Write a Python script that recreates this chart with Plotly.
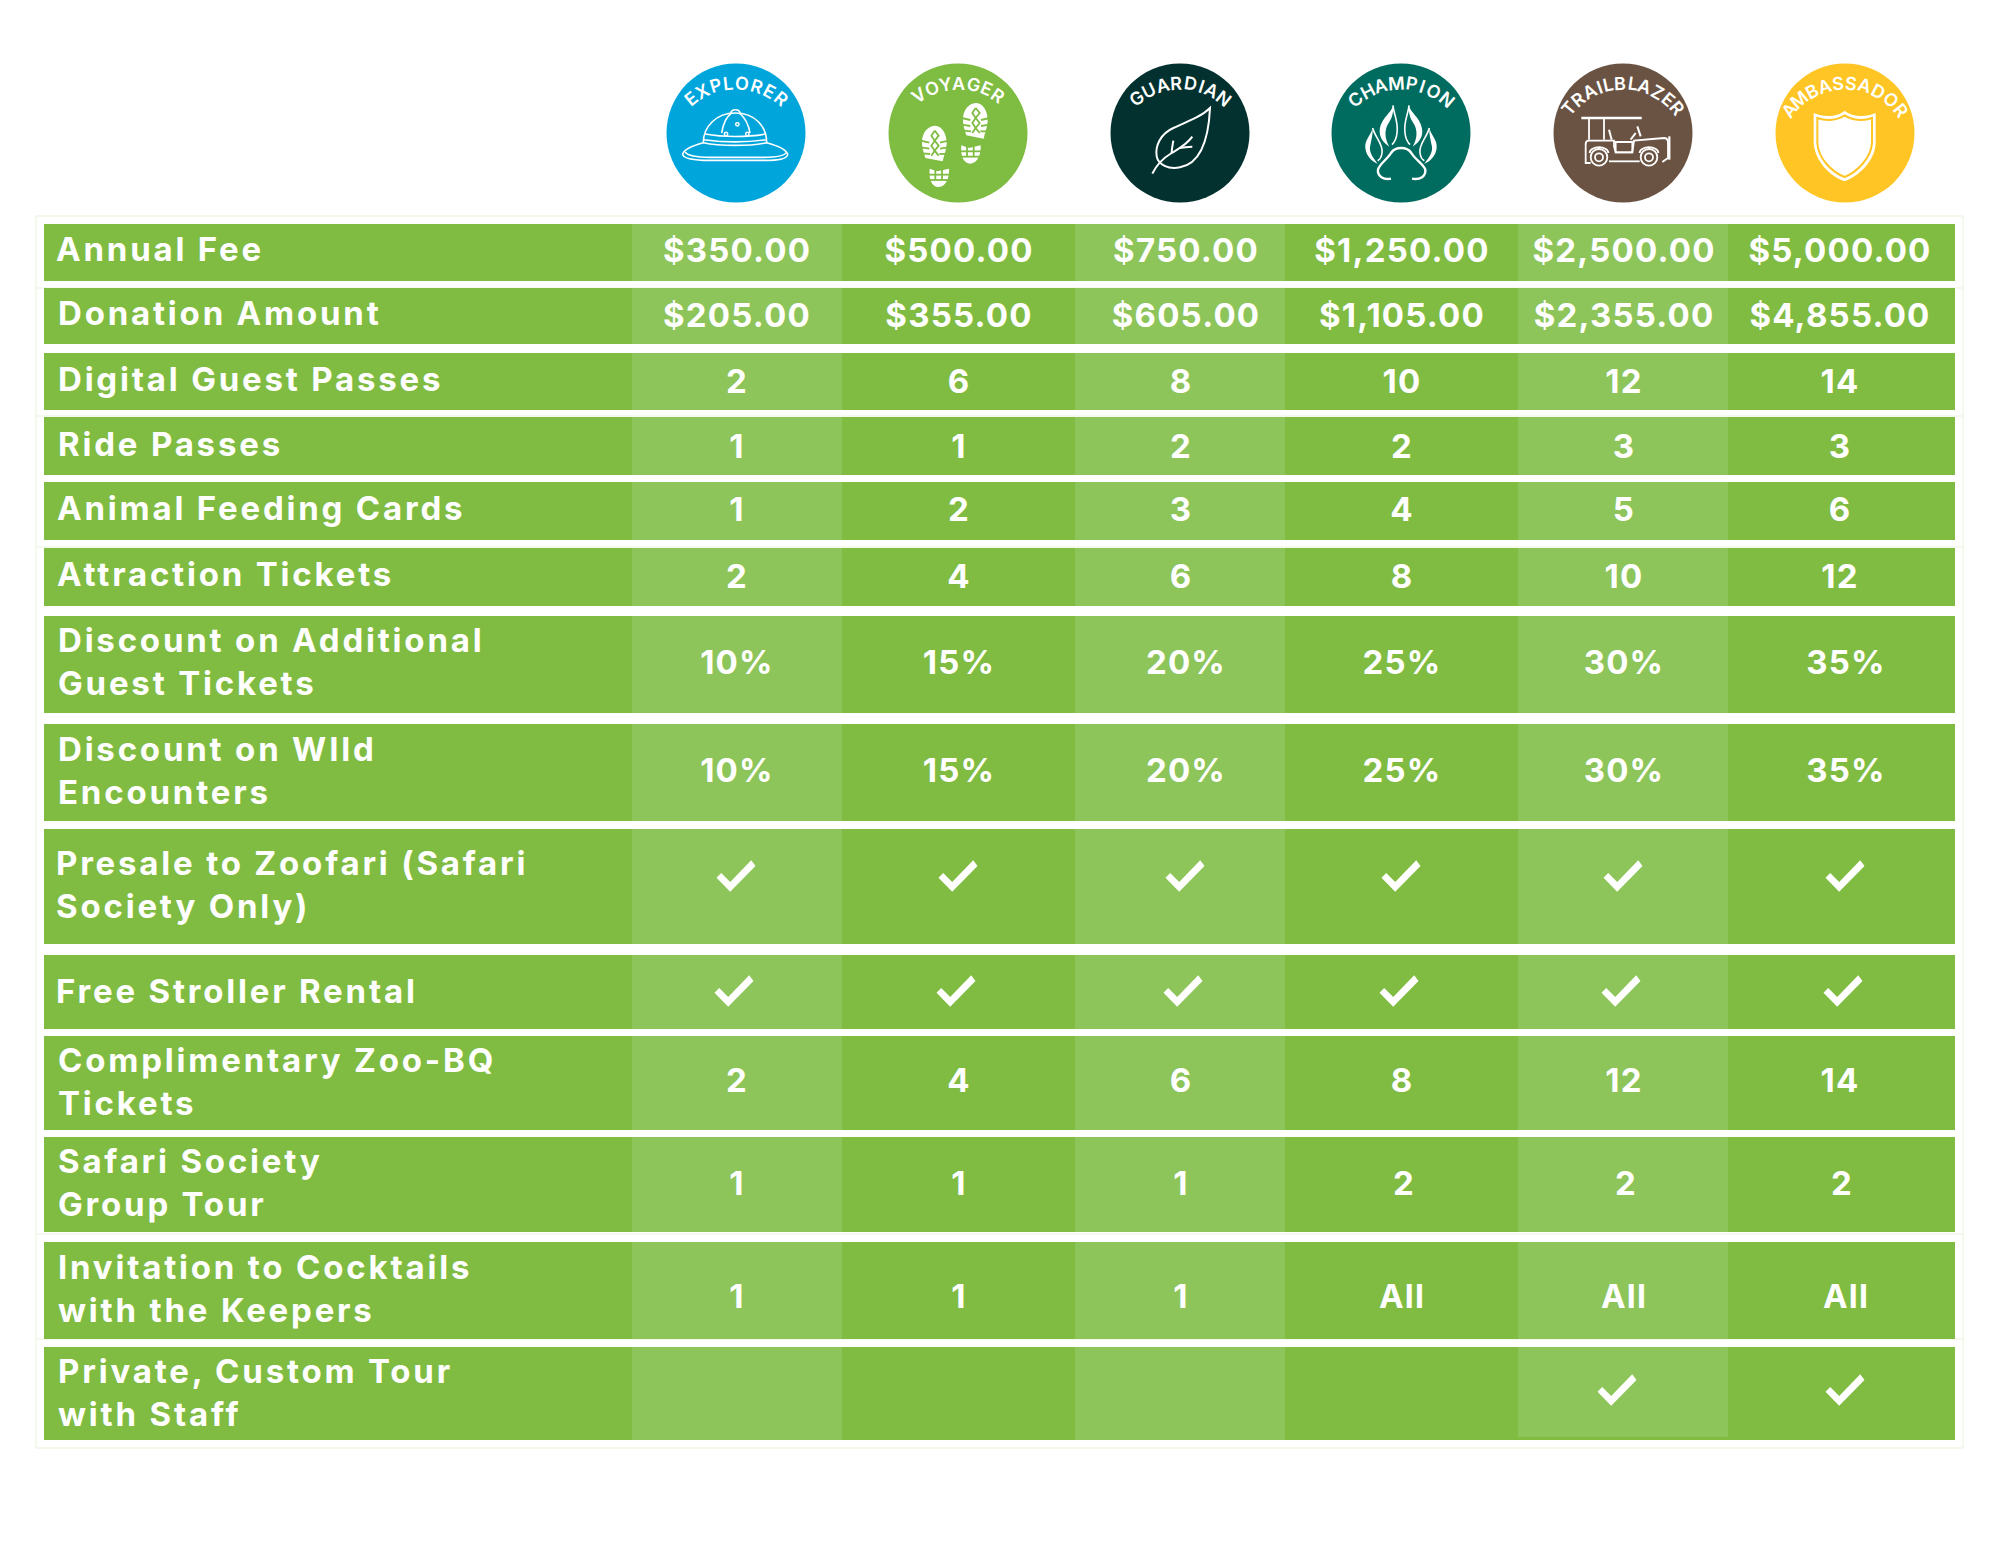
"""
SAFARI SOCIETY TIERS - membership benefits table drawn as a Plotly figure.

The x and y axes run in page pixels, so the bands, badges and labels all go
through the library's own scales.
"""

import math
import re

import plotly.graph_objects as go

# --- data ---------------------------------------------------------------
tier_names = ["EXPLORER", "VOYAGER", "GUARDIAN", "CHAMPION", "TRAILBLAZER", "AMBASSADOR"]
tier_colors = ["#00A5DC", "#7FBC42", "#03312F", "#006C5F", "#6B5343", "#FFC524"]

row_labels = [
    "Annual Fee",
    "Donation Amount",
    "Digital Guest Passes",
    "Ride Passes",
    "Animal Feeding Cards",
    "Attraction Tickets",
    "Discount on Additional<br>Guest Tickets",
    "Discount on WIld<br>Encounters",
    "Presale to Zoofari (Safari<br>Society Only)",
    "Free Stroller Rental",
    "Complimentary Zoo-BQ<br>Tickets",
    "Safari Society<br>Group Tour",
    "Invitation to Cocktails<br>with the Keepers",
    "Private, Custom Tour<br>with Staff",
]

CHECK = "check"
explorer = ["$350.00", "$205.00", "2", "1", "1", "2", "10%", "10%", CHECK, CHECK, "2", "1", "1", ""]
voyager = ["$500.00", "$355.00", "6", "1", "2", "4", "15%", "15%", CHECK, CHECK, "4", "1", "1", ""]
guardian = ["$750.00", "$605.00", "8", "2", "3", "6", "20%", "20%", CHECK, CHECK, "6", "1", "1", ""]
champion = ["$1,250.00", "$1,105.00", "10", "2", "4", "8", "25%", "25%", CHECK, CHECK, "8", "2", "All", ""]
trailblazer = ["$2,500.00", "$2,355.00", "12", "3", "5", "10", "30%", "30%", CHECK, CHECK, "12", "2", "All", CHECK]
ambassador = ["$5,000.00", "$4,855.00", "14", "3", "6", "12", "35%", "35%", CHECK, CHECK, "14", "2", "All", CHECK]
tier_values = [explorer, voyager, guardian, champion, trailblazer, ambassador]

# --- page layout (pixels) -----------------------------------------------
PAGE_W, PAGE_H = 1999, 1545
DARK, LIGHT = "#80BC42", "#8EC55A"
FAINT = "#E8F3DC"
FONT = "Inter"

row_top = [224, 288, 353, 417, 482, 548, 616, 724, 829, 955, 1036, 1137, 1242, 1347]
row_bottom = [281, 344, 410, 475, 540, 606, 713, 821, 944, 1029, 1130, 1232, 1339, 1440]
band_left = [632, 842, 1075, 1285, 1518, 1728]
band_right = [842, 1075, 1285, 1518, 1728, 1955]
badge_x = [736, 958, 1180, 1401, 1623, 1845]
badge_y = 133

label_x = [56, 58, 58, 58, 57, 57, 58, 58, 56, 56, 58, 58, 58, 58]
label_y = [253, 317, 383, 448, 512, 578, 665, 774, 888, 995, 1085, 1186, 1292, 1396]
value_y = [254, 319, 385, 450, 513, 580, 666, 774, 876, 991, 1084, 1187, 1300, 1390]
# a few cells sit off their column centre in the original
value_x_shift = {
    (0, 2): 5, (1, 2): 5, (6, 2): 5, (7, 2): 5, (8, 2): 5, (9, 1): -2, (9, 2): 3,
    (9, 0): -2, (9, 3): -2, (9, 4): -2, (9, 5): -2,
    (0, 5): -6, (1, 5): -6, (2, 5): -6, (3, 5): -6, (4, 5): -6, (5, 5): -6,
    (10, 5): -6, (11, 5): -4, (11, 4): 2, (11, 3): 2, (13, 4): -6,
}

# letter centres run along a flatter arc than the badge edge: (half span in degrees)
arc_span = [39, 34, 38, 40, 50, 52]
ARC_DROP, ARC_RADIUS = 21, 71
letter_weight = {"I": 0.5, "L": 0.8, "T": 0.9, "E": 0.85, "M": 1.2, "O": 1.15, "G": 1.1, "C": 1.05, "D": 1.1, "Y": 0.9}

# icons are traced at 3x inside a 150px window around each badge
ICON_ORIGIN = [(660, 58), (883, 58), (1105, 58), (1327, 58), (1549, 58), (1770, 58)]

CHECK_GLYPH = [(15.2, -15.7), (19.5, -10), (-5.8, 15.7), (-19.5, 1.7), (-14.8, -3), (-5.8, 6)]


def place(path, origin):
    """Map a path traced in the 3x icon window onto the page."""
    values = iter(re.findall(r"[MLCQZ]|-?[\d.]+", path))
    out, is_x = [], True
    for tok in values:
        if tok in "MLCQZ":
            out.append(tok)
            is_x = True
        elif is_x:
            out.append(f"{origin[0] + float(tok) / 3:.2f}")
            is_x = False
        else:
            out.append(f"{origin[1] + float(tok) / 3:.2f}")
            is_x = True
    return " ".join(out)


def mirror(path, axis):
    """Reflect a traced path about a vertical line in the icon window."""
    tokens = re.findall(r"[MLCQZ]|-?[\d.]+", path)
    out, is_x = [], True
    for tok in tokens:
        if tok in "MLCQZ":
            out.append(tok)
            is_x = True
        elif is_x:
            out.append(str(2 * axis - float(tok)))
            is_x = False
        else:
            out.append(tok)
            is_x = True
    return " ".join(out)


def shift(path, dx, dy):
    tokens = re.findall(r"[MLCQZ]|-?[\d.]+", path)
    out, is_x = [], True
    for tok in tokens:
        if tok in "MLCQZ":
            out.append(tok)
            is_x = True
        elif is_x:
            out.append(str(float(tok) + dx))
            is_x = False
        else:
            out.append(str(float(tok) + dy))
            is_x = True
    return " ".join(out)


WHITE = "#FFFFFF"


def stroke(fig, tier, path, width=1.6, color=WHITE):
    fig.add_shape(type="path", path=place(path, ICON_ORIGIN[tier]), line=dict(color=color, width=width))


def fill(fig, tier, path, color=WHITE):
    fig.add_shape(type="path", path=place(path, ICON_ORIGIN[tier]), fillcolor=color, line=dict(width=0))


def ring(fig, tier, cx, cy, r, width=1.5):
    ox, oy = ICON_ORIGIN[tier]
    fig.add_shape(type="circle", x0=ox + (cx - r) / 3, x1=ox + (cx + r) / 3, y0=oy + (cy - r) / 3,
                  y1=oy + (cy + r) / 3, line=dict(color=WHITE, width=width))


def draw_hat(fig):
    stroke(fig, 0, "M130 254 C100 262 72 275 68 288 C68 300 90 305 130 307 L330 307 "
                   "C365 306 383 300 383 288 C378 275 350 262 320 254 C270 265 180 265 130 254 Z")
    stroke(fig, 0, "M75 282 C85 295 120 298 150 298 L310 298 C345 298 375 293 380 282")
    stroke(fig, 0, "M130 254 C130 205 170 165 225 165 C285 165 320 205 320 254")
    stroke(fig, 0, "M135 228 C190 238 265 238 318 228")
    stroke(fig, 0, "M131 245 C190 253 265 253 320 245")
    stroke(fig, 0, "M185 225 C190 195 200 175 215 165")
    stroke(fig, 0, "M270 225 C265 195 250 175 238 165")
    stroke(fig, 0, "M212 165 C215 152 238 152 240 165")
    for cx, cy in [(198, 228), (262, 228), (232, 199)]:
        ring(fig, 0, cx, cy, 5)


def draw_boots(fig):
    sole = "M240 185 C240 150 262 135 280 135 C300 135 315 160 314 190 C313 210 305 225 302 242 L250 232 C246 215 240 205 240 185 Z"
    heel = "M235 262 L258 270 L293 262 C295 285 285 317 262 317 C240 317 232 290 235 262 Z"
    treads = ["M236 180 L262 186", "M236 200 L262 204", "M240 218 L264 220", "M320 180 L294 186",
              "M320 200 L294 204", "M312 220 L292 220", "M278 150 L268 165 L278 180 L268 195 L278 210 L268 225",
              "M278 150 L290 165 L278 180 L290 195 L278 210 L290 225"]
    heel_treads = ["M230 280 L296 280", "M232 296 L292 296", "M252 262 L252 296", "M272 262 L272 296"]
    color = tier_colors[1]
    for dx, dy, hdx, hdy in [(0, 0, 0, 0), (-123, 68, -95, 70)]:
        fill(fig, 1, shift(sole, dx, dy))
        fill(fig, 1, shift(heel, hdx, hdy))
        for t in treads:
            stroke(fig, 1, shift(t, dx, dy), width=1.8, color=color)
        for t in heel_treads:
            stroke(fig, 1, shift(t, hdx, hdy), width=1.8, color=color)


def draw_leaf(fig):
    stroke(fig, 2, "M315 150 C290 175 250 190 205 210 C165 228 150 265 155 295 C160 320 190 335 225 328 "
                   "C280 318 310 260 315 150 Z", width=2)
    stroke(fig, 2, "M142 347 C155 320 175 300 200 285 C225 270 245 260 262 236", width=2)
    stroke(fig, 2, "M200 285 C200 272 203 260 205 248", width=2)
    stroke(fig, 2, "M225 270 C240 268 250 266 262 266", width=2)


def draw_paw(fig):
    stroke(fig, 3, "M192 362 C170 366 150 355 153 335 C157 318 180 305 192 285 C205 265 240 265 253 285 "
                   "C265 305 290 318 295 335 C297 355 280 366 255 362", width=2.4)
    toe = "M198 142 C195 165 160 180 158 220 C158 245 175 258 187 266 C172 240 172 215 185 195 C195 180 200 165 198 142 Z"
    toe_edge = "M198 142 C200 170 215 190 210 225 C208 245 200 255 195 260"
    outer = "M137 210 C130 235 113 245 115 270 C118 295 135 310 152 317 C135 295 125 280 130 262 C133 245 138 230 137 210 Z"
    outer_edge = "M137 210 C145 240 170 260 165 285 C163 300 158 305 152 308"
    for shape in [toe, outer, mirror(toe, 222), mirror(outer, 222)]:
        fill(fig, 3, shape)
    for line in [toe_edge, outer_edge, mirror(toe_edge, 222), mirror(outer_edge, 222)]:
        stroke(fig, 3, line, width=1.6)


def draw_jeep(fig):
    stroke(fig, 4, "M97 180 L278 180", width=2.4)
    stroke(fig, 4, "M120 180 L120 245", width=1.8)
    stroke(fig, 4, "M165 180 L165 245", width=1.8)
    stroke(fig, 4, "M125 315 L110 315 L110 258 Q110 248 120 248 L195 248 L195 265 L200 283 L250 283 "
                   "L255 248 L345 240 Q357 240 357 255 L357 300 L340 312", width=1.8)
    stroke(fig, 4, "M180 310 L272 310", width=1.8)
    stroke(fig, 4, "M200 252 L250 252 L250 283 L200 283 Z", width=1.8)
    stroke(fig, 4, "M180 215 L188 245", width=2)
    stroke(fig, 4, "M265 205 L275 235", width=2)
    stroke(fig, 4, "M245 245 L260 225", width=2)
    stroke(fig, 4, "M361 235 L361 305", width=2.2)
    stroke(fig, 4, "M122 285 C122 262 178 262 178 285", width=1.8)
    stroke(fig, 4, "M272 285 C272 262 328 262 328 285", width=1.8)
    for cx in [150, 300]:
        ring(fig, 4, cx, 298, 25, width=1.8)
        ring(fig, 4, cx, 298, 12, width=1.8)


def draw_shield(fig):
    fill(fig, 5, "M131 165 C165 180 205 175 224 158 C245 175 285 180 317 165 L317 255 "
                 "C315 310 265 355 224 370 C180 355 135 310 131 255 Z")
    stroke(fig, 5, "M142 180 C170 190 205 187 224 172 C245 187 280 190 306 180 L306 255 "
                   "C303 302 260 342 224 357 C185 342 145 302 142 255 Z", width=2, color=tier_colors[5])


def arc_letters(fig, tier):
    name = tier_names[tier]
    weights = [letter_weight.get(ch, 1.0) for ch in name]
    steps = [(a + b) / 2 for a, b in zip(weights, weights[1:])]
    per_unit = 2 * arc_span[tier] / sum(steps)
    angle = -arc_span[tier]
    for i, ch in enumerate(name):
        rad = math.radians(angle)
        fig.add_annotation(
            x=badge_x[tier] + ARC_RADIUS * math.sin(rad),
            y=badge_y + ARC_DROP - ARC_RADIUS * math.cos(rad),
            text=ch, textangle=angle, showarrow=False, xanchor="center", yanchor="middle",
            font=dict(family=FONT, size=18, color=WHITE, weight=600),
        )
        if i < len(steps):
            angle += steps[i] * per_unit


def main() -> None:
    fig = go.Figure()

    # faint frame left over behind the table
    fig.add_shape(type="rect", x0=36, x1=1963, y0=216, y1=1448, line=dict(color=FAINT, width=1), layer="below")
    for y in [288, 416, 547, 1234, 1339]:
        fig.add_shape(type="line", x0=36, x1=1963, y0=y, y1=y, line=dict(color=FAINT, width=1), layer="below")

    row_mid = [(t + b) / 2 for t, b in zip(row_top, row_bottom)]
    row_h = [b - t for t, b in zip(row_top, row_bottom)]

    # whole rows in the dark green, then the lighter columns on top
    fig.add_trace(go.Bar(
        y=row_mid, x=[band_right[-1] - 44] * len(row_mid), base=[44] * len(row_mid), width=row_h,
        orientation="h", marker=dict(color=DARK, line=dict(width=0)), hoverinfo="skip",
    ))
    for col in [0, 2, 4]:
        heights = list(row_h)
        mids = list(row_mid)
        if col == 4:
            # the light band stops short in the last row
            heights[-1] -= 3
            mids[-1] -= 1.5
        fig.add_trace(go.Bar(
            y=mids, x=[band_right[col] - band_left[col]] * len(mids), base=[band_left[col]] * len(mids),
            width=heights, orientation="h", marker=dict(color=LIGHT, line=dict(width=0)), hoverinfo="skip",
        ))

    fig.add_trace(go.Scatter(
        x=badge_x, y=[badge_y] * len(badge_x), mode="markers",
        marker=dict(size=139, color=tier_colors, line=dict(width=0)), hoverinfo="skip",
    ))

    fig.add_trace(go.Scatter(
        x=label_x, y=label_y, mode="text", text=row_labels, textposition="middle right",
        textfont=dict(family=FONT, size=33, color=WHITE, weight=700), hoverinfo="skip",
    ))

    cell_x, cell_y, cell_text = [], [], []
    for col, values in enumerate(tier_values):
        for row, value in enumerate(values):
            x = badge_x[col] + value_x_shift.get((row, col), 0)
            if value == CHECK:
                points = [f"{x + dx:.1f} {value_y[row] + dy:.1f}" for dx, dy in CHECK_GLYPH]
                fig.add_shape(type="path", path="M" + " L".join(points) + " Z", fillcolor=WHITE, line=dict(width=0))
            elif value:
                # the letter spacing trails the last glyph, so nudge the text back to centre
                cell_x.append(x + 1)
                cell_y.append(value_y[row])
                cell_text.append(value)
    fig.add_trace(go.Scatter(
        x=cell_x, y=cell_y, mode="text", text=cell_text, textposition="middle center",
        textfont=dict(family=FONT, size=33, color=WHITE, weight=700), hoverinfo="skip",
    ))

    draw_hat(fig)
    draw_boots(fig)
    draw_leaf(fig)
    draw_paw(fig)
    draw_jeep(fig)
    draw_shield(fig)
    for tier in range(len(tier_names)):
        arc_letters(fig, tier)

    fig.update_layout(
        width=PAGE_W, height=PAGE_H, margin=dict(l=0, r=0, t=0, b=0), showlegend=False,
        barmode="overlay", paper_bgcolor=WHITE, plot_bgcolor=WHITE, bargap=0,
        xaxis=dict(range=[0, PAGE_W], visible=False, fixedrange=True),
        yaxis=dict(range=[PAGE_H, 0], visible=False, fixedrange=True),
    )

    # letter spacing has no Plotly attribute, so it is set once the text exists
    post_script = """
    document.body.style.margin = '0';
    var layers = document.querySelectorAll('.scatterlayer .trace');
    layers[1].querySelectorAll('text').forEach(function (t) { t.style.letterSpacing = '2.8px'; });
    layers[2].querySelectorAll('text').forEach(function (t) { t.style.letterSpacing = '1.2px'; });
    """
    fig.write_html("out.html", post_script=post_script, config=dict(displayModeBar=False))


if __name__ == "__main__":
    main()
